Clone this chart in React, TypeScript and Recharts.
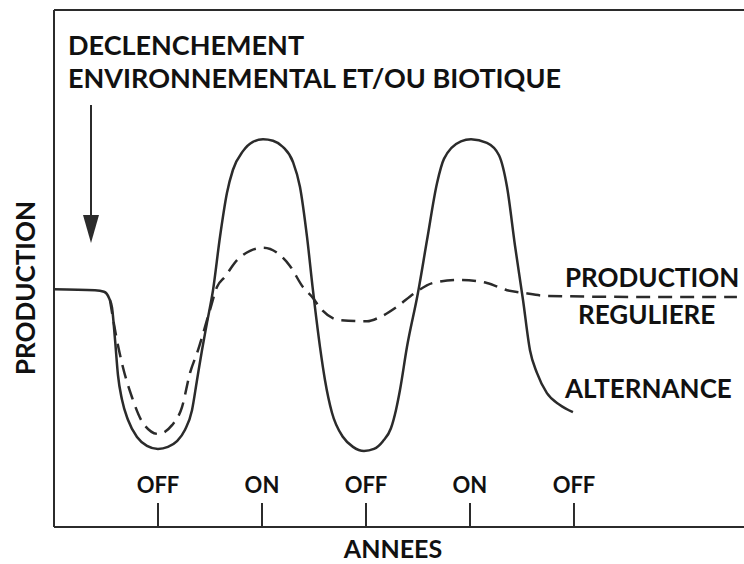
import React from "react";
import {
  ComposedChart,
  Line,
  XAxis,
  YAxis,
  ReferenceLine,
} from "recharts";

// x in years from the trigger, y in relative production (0-100)
const alternanceYears = [
  0, 0.394, 0.481, 0.529, 0.558, 0.587, 0.615, 0.654, 0.712, 0.798, 0.894, 1.0,
  1.096, 1.183, 1.26, 1.327, 1.375, 1.423, 1.471, 1.529, 1.596, 1.663, 1.721,
  1.817, 1.913, 2.01, 2.106, 2.202, 2.298, 2.365, 2.433, 2.49, 2.558, 2.606,
  2.673, 2.779, 2.875, 2.981, 3.077, 3.163, 3.24, 3.288, 3.327, 3.394, 3.5,
  3.587, 3.683, 3.75, 3.913, 4.01, 4.163, 4.279, 4.356, 4.433, 4.51, 4.577,
  4.644, 4.74, 4.865, 4.99,
];
const alternanceValues = [
  46.0, 45.8, 45.5, 44.3, 42.4, 36.2, 29.4, 24.6, 20.7, 17.4, 15.7, 15.1, 15.5,
  16.6, 18.8, 22.6, 28.4, 34.2, 39.5, 45.8, 56.1, 64.6, 69.1, 72.7, 74.5, 75.0,
  74.7, 73.5, 70.6, 65.8, 56.1, 45.8, 34.8, 28.4, 22.1, 17.4, 15.5, 14.7, 15.1,
  16.6, 19.1, 22.6, 26.5, 34.8, 45.3, 55.5, 66.5, 71.2, 74.6, 75.0, 74.3, 71.9,
  65.8, 54.4, 43.9, 34.2, 29.8, 25.9, 23.6, 22.2,
];

const reguliereYears = [
  0.538, 0.596, 0.663, 0.75, 0.856, 1.0, 1.135, 1.231, 1.308, 1.385, 1.5, 1.567,
  1.644, 1.76, 1.885, 2.01, 2.173, 2.269, 2.394, 2.49, 2.558, 2.75, 3.01, 3.135,
  3.298, 3.471, 3.644, 3.904, 4.163, 4.356, 4.51, 4.74, 5.635, 6.567,
];
const reguliereValues = [
  43.9, 37.1, 30.9, 25.1, 20.1, 18.0, 19.7, 23.2, 29.8, 34.2, 42.0, 46.4, 48.4,
  51.6, 53.4, 54.0, 52.6, 50.5, 46.4, 44.3, 42.4, 40.0, 39.8, 40.6, 42.6, 45.3,
  47.2, 47.8, 47.2, 45.8, 45.3, 44.7, 44.5, 44.5,
];

const tickYears = [1, 2, 3, 4, 5];
const tickLabels = ["OFF", "ON", "OFF", "ON", "OFF"];

const alternanceData = alternanceYears.map((x, i) => ({ x, y: alternanceValues[i] }));
const reguliereData = reguliereYears.map((x, i) => ({ x, y: reguliereValues[i] }));

const INK = "#2b2b2b";
const FONT = "Lato, 'Open Sans', sans-serif";

const YearTick = (props: any) => {
  const { x, y, payload } = props;
  const label = tickLabels[tickYears.indexOf(payload.value)];
  return (
    <g>
      <line x1={x} x2={x} y1={y - 24} y2={y} stroke={INK} strokeWidth={2} />
      <text
        x={x}
        y={y - 34}
        textAnchor="middle"
        fontFamily={FONT}
        fontWeight="bold"
        fontSize={22}
        fill="#111"
      >
        {label}
      </text>
    </g>
  );
};

export default function App() {
  return (
    <div style={{ position: "absolute", left: 0, top: 0, background: "#fff" }}>
      <ComposedChart
        width={744}
        height={564}
        margin={{ top: 10, right: 0, bottom: 7, left: 0 }}
      >
        <XAxis
          type="number"
          dataKey="x"
          domain={[0, 6.635]}
          ticks={tickYears}
          tick={<YearTick />}
          tickLine={false}
          tickSize={0}
          tickMargin={0}
          height={30}
          axisLine={{ stroke: INK, strokeWidth: 2 }}
          allowDataOverflow
        />
        <YAxis
          type="number"
          domain={[0, 100]}
          width={54}
          tick={false}
          tickLine={false}
          axisLine={{ stroke: INK, strokeWidth: 2 }}
        />
        <ReferenceLine y={100} stroke={INK} strokeWidth={2} />
        <Line
          data={reguliereData}
          dataKey="y"
          type="monotone"
          stroke={INK}
          strokeWidth={2.5}
          strokeDasharray="14 8"
          dot={false}
          isAnimationActive={false}
        />
        <Line
          data={alternanceData}
          dataKey="y"
          type="monotone"
          stroke={INK}
          strokeWidth={2.5}
          dot={false}
          isAnimationActive={false}
        />
        <g fontFamily={FONT} fontWeight="bold" fill="#111">
          <text x={68} y={55} fontSize={27}>DECLENCHEMENT</text>
          <text x={68} y={88} fontSize={27}>ENVIRONNEMENTAL ET/OU BIOTIQUE</text>
          <text x={565} y={287} fontSize={26}>PRODUCTION</text>
          <text x={578} y={324} fontSize={26}>REGULIERE</text>
          <text x={565} y={398} fontSize={26}>ALTERNANCE</text>
          <text x={393} y={558} fontSize={25} textAnchor="middle">ANNEES</text>
          <text
            x={35}
            y={288}
            fontSize={26}
            textAnchor="middle"
            transform="rotate(-90 35 288)"
          >
            PRODUCTION
          </text>
        </g>
        <g>
          <line x1={91} x2={91} y1={105} y2={222} stroke={INK} strokeWidth={2} />
          <polygon points="83,215 99,215 91,243" fill={INK} />
        </g>
      </ComposedChart>
    </div>
  );
}
